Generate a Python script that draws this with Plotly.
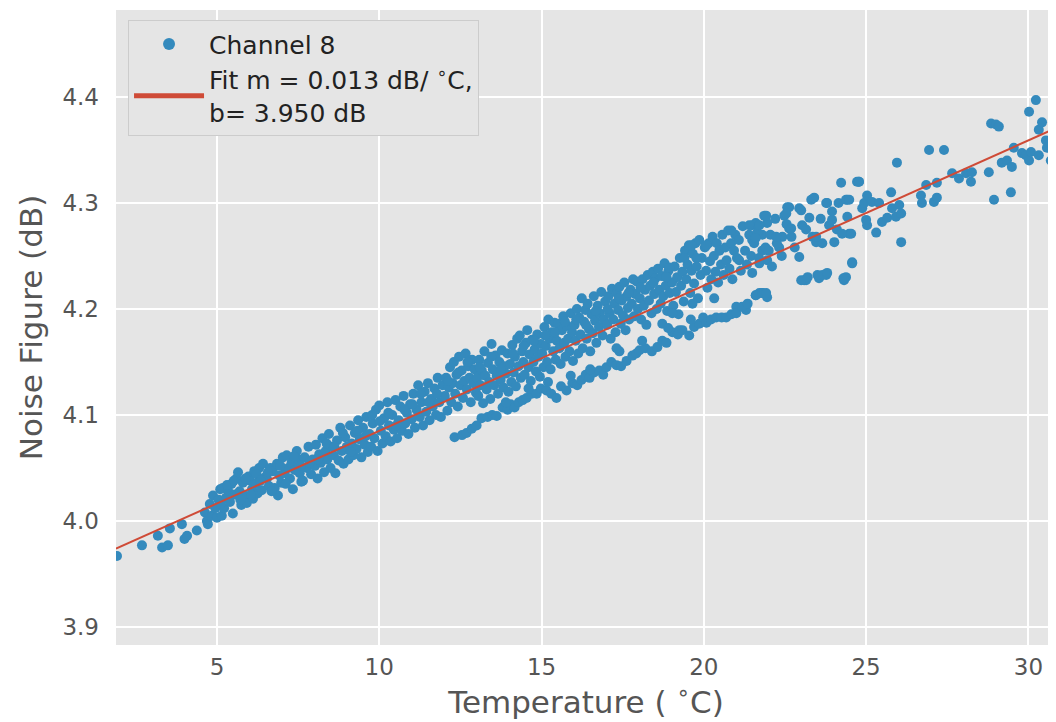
import plotly.graph_objects as go

# ---------------- data ----------------
# (temperature degC, noise figure dB) pairs, grouped by region of the cloud
seg_cold = [(1.92,3.967),(2.69,3.977),(3.18,3.986),(3.31,3.975),(3.49,3.977),(3.55,3.993),
            (3.92,3.997),(4.00,3.983),(4.08,3.986),(4.38,3.991),(4.63,4.008),(4.69,4.000),
            (4.72,3.997),(4.78,4.016),(4.88,4.024),(4.85,4.005),(4.95,4.012),(5.00,4.003)]

seg_5_8 = [(5.05,4.020),(5.10,4.030),(5.15,4.005),(5.18,4.031),(5.22,4.012),(5.28,4.022),(5.34,4.029),
           (5.40,4.018),(5.45,4.035),(5.49,4.007),(5.55,4.025),(5.60,4.040),(5.65,4.046),(5.70,4.028),
           (5.75,4.015),(5.80,4.036),(5.85,4.024),(5.92,4.017),(5.97,4.042),(6.02,4.038),(6.08,4.030),
           (6.11,4.021),(6.15,4.047),(6.20,4.035),(6.25,4.026),(6.30,4.050),(6.38,4.029),(6.42,4.054),
           (6.47,4.041),(6.54,4.040),(6.60,4.033),(6.65,4.050),(6.72,4.047),(6.78,4.031),(6.85,4.054),
           (6.88,4.024),(6.92,4.043),(6.98,4.036),(7.03,4.060),(7.08,4.045),(7.15,4.062),(7.20,4.050),
           (7.25,4.040),(7.30,4.055),(7.34,4.030),(7.40,4.048),(7.46,4.066),(7.50,4.058),(7.55,4.045),
           (7.60,4.037),(7.65,4.038),(7.70,4.060),(7.77,4.050),(7.82,4.070),(7.90,4.044),(7.95,4.058)]

seg_8_12 = [(8.02,4.052),(8.05,4.072),(8.10,4.040),(8.15,4.063),(8.20,4.055),(8.25,4.078),(8.30,4.046),
            (8.35,4.066),(8.40,4.058),(8.45,4.082),(8.50,4.050),(8.55,4.070),(8.60,4.062),(8.65,4.045),
            (8.70,4.076),(8.75,4.057),(8.80,4.088),(8.85,4.066),(8.90,4.054),(8.95,4.079),(9.00,4.070),
            (9.05,4.058),(9.10,4.090),(9.15,4.073),(9.20,4.062),(9.25,4.083),(9.30,4.068),(9.35,4.095),
            (9.40,4.077),(9.45,4.060),(9.50,4.088),(9.55,4.072),(9.60,4.098),(9.65,4.065),(9.70,4.082),
            (9.75,4.070),(9.80,4.092),(9.85,4.078),(9.90,4.105),(9.95,4.066),(10.00,4.109),(10.05,4.085),
            (10.10,4.073),(10.15,4.097),(10.20,4.080),(10.25,4.112),(10.30,4.090),(10.35,4.075),
            (10.40,4.100),(10.45,4.086),(10.50,4.114),(10.55,4.078),(10.60,4.095),(10.65,4.108),
            (10.70,4.085),(10.75,4.118),(10.80,4.092),(10.85,4.102),(10.90,4.082),(10.95,4.110),
            (11.00,4.096),(11.05,4.120),(11.10,4.088),(11.15,4.105),(11.20,4.128),(11.25,4.098),
            (11.30,4.112),(11.35,4.090),(11.40,4.122),(11.45,4.103),(11.50,4.130),(11.55,4.095),
            (11.60,4.115),(11.65,4.108),(11.70,4.125),(11.75,4.100),(11.80,4.135),(11.85,4.112),
            (11.90,4.098),(11.95,4.128)]

seg_12_13 = [(12.02,4.118),(12.06,4.135),(12.10,4.104),(12.14,4.126),(12.18,4.145),(12.22,4.112),
             (12.26,4.130),(12.30,4.150),(12.34,4.120),(12.38,4.138),(12.42,4.108),(12.46,4.155),
             (12.50,4.128),(12.54,4.142),(12.58,4.116),(12.62,4.132),(12.66,4.158),(12.70,4.124),
             (12.74,4.146),(12.78,4.135),(12.82,4.112),(12.86,4.152),(12.90,4.130),(12.94,4.143),
             (12.98,4.121)]

seg_13_18 = [(13.02,4.135),(13.05,4.118),(13.08,4.152),(13.12,4.128),(13.16,4.142),(13.20,4.111),
             (13.24,4.160),(13.27,4.137),(13.31,4.124),(13.35,4.149),(13.39,4.131),(13.42,4.115),
             (13.46,4.167),(13.50,4.143),(13.54,4.128),(13.58,4.156),(13.62,4.137),(13.66,4.120),
             (13.70,4.150),(13.74,4.133),(13.78,4.161),(13.82,4.126),(13.86,4.146),(13.90,4.139),
             (13.95,4.158),(13.98,4.122),
             (14.03,4.148),(14.07,4.131),(14.10,4.166),(14.14,4.140),(14.18,4.155),(14.21,4.127),
             (14.25,4.172),(14.29,4.146),(14.33,4.175),(14.36,4.135),(14.40,4.160),(14.44,4.150),
             (14.48,4.138),(14.52,4.168),(14.56,4.180),(14.60,4.145),(14.63,4.157),(14.67,4.132),
             (14.71,4.171),(14.75,4.150),(14.79,4.162),(14.83,4.141),(14.87,4.176),(14.91,4.155),
             (14.95,4.136),(14.98,4.167),
             (15.02,4.158),(15.06,4.145),(15.09,4.183),(15.13,4.165),(15.17,4.150),(15.21,4.190),
             (15.25,4.172),(15.28,4.143),(15.32,4.178),(15.36,4.160),(15.40,4.187),(15.44,4.152),
             (15.47,4.170),(15.51,4.186),(15.55,4.163),(15.59,4.148),(15.63,4.180),(15.67,4.193),
             (15.70,4.168),(15.74,4.155),(15.78,4.184),(15.82,4.172),(15.86,4.160),(15.90,4.196),
             (15.94,4.178),(15.97,4.151),
             (16.02,4.185),(16.05,4.170),(16.09,4.200),(16.13,4.158),(16.16,4.192),(16.20,4.176),
             (16.24,4.210),(16.27,4.163),(16.31,4.188),(16.35,4.199),(16.39,4.172),(16.42,4.205),
             (16.46,4.181),(16.50,4.160),(16.54,4.195),(16.58,4.177),(16.61,4.212),(16.65,4.189),
             (16.69,4.168),(16.73,4.203),(16.77,4.183),(16.80,4.196),(16.84,4.216),(16.88,4.175),
             (16.92,4.190),(16.96,4.207),
             (17.02,4.185),(17.06,4.212),(17.10,4.196),(17.13,4.172),(17.17,4.219),(17.21,4.190),
             (17.25,4.205),(17.28,4.178),(17.32,4.215),(17.36,4.199),(17.40,4.221),(17.44,4.186),
             (17.47,4.208),(17.51,4.194),(17.55,4.225),(17.59,4.180),(17.62,4.212),(17.66,4.201),
             (17.70,4.190),(17.74,4.218),(17.78,4.205),(17.82,4.228),(17.85,4.193),(17.89,4.214),
             (17.93,4.226),(17.97,4.200)]

seg_18_21 = [(18.03,4.210),(18.07,4.190),(18.11,4.228),(18.15,4.203),(18.19,4.218),(18.23,4.185),
             (18.27,4.232),(18.31,4.208),(18.35,4.222),(18.39,4.196),(18.43,4.235),(18.47,4.214),
             (18.51,4.229),(18.55,4.200),(18.59,4.238),(18.63,4.218),(18.67,4.205),(18.71,4.231),
             (18.75,4.212),(18.79,4.243),(18.83,4.222),(18.87,4.198),(18.91,4.236),(18.95,4.215),
             (19.02,4.225),(19.06,4.203),(19.10,4.240),(19.14,4.216),(19.18,4.230),(19.22,4.195),
             (19.26,4.248),(19.30,4.222),(19.34,4.235),(19.38,4.207),(19.42,4.255),(19.46,4.228),
             (19.50,4.242),(19.54,4.260),(19.58,4.215),(19.62,4.236),(19.66,4.252),(19.70,4.224),
             (19.74,4.262),(19.78,4.240),(19.82,4.210),(19.86,4.265),(19.90,4.232),(19.94,4.248),
             (20.03,4.258),(20.07,4.236),(20.11,4.220),(20.15,4.262),(20.19,4.245),(20.23,4.228),
             (20.27,4.268),(20.31,4.250),(20.36,4.235),(20.40,4.262),(20.44,4.225),(20.48,4.255),
             (20.53,4.242),(20.57,4.270),(20.61,4.232),(20.66,4.258),(20.70,4.246),(20.75,4.274),
             (20.79,4.238),(20.84,4.262),(20.88,4.228),(20.93,4.255),(20.97,4.270),
             (21.02,4.248),(21.08,4.265),(21.14,4.236),(21.20,4.278),(21.27,4.255),(21.33,4.242),
             (21.40,4.270),(21.46,4.250),
             (18.94,4.239),(19.40,4.248),(19.77,4.248),(19.62,4.260),(20.08,4.260),(20.85,4.274),
             (21.09,4.246),(20.32,4.210),(19.65,4.205),(19.03,4.196),(18.72,4.186),(19.25,4.180),
             (21.00,4.202),(21.30,4.199)]

seg_21_25 = [(21.49,4.279),(21.60,4.281),(21.86,4.288),(21.95,4.281),(21.80,4.270),(21.49,4.265),
             (21.80,4.255),(21.95,4.246),(21.49,4.234),(21.80,4.215),(21.95,4.211),(21.60,4.213),
             (22.42,4.268),(22.32,4.258),(22.48,4.288),(22.63,4.296),(22.63,4.276),(22.94,4.295),
             (22.94,4.249),(23.03,4.279),(23.09,4.227),(23.25,4.286),(23.31,4.303),(23.40,4.305),
             (23.46,4.263),(23.55,4.229),(23.77,4.232),(23.80,4.300),(23.86,4.279),(24.02,4.263),
             (24.23,4.319),(24.32,4.227),(24.42,4.303),(24.42,4.287),(24.48,4.271),(24.57,4.244),
             (24.78,4.320),(21.55,4.262),(21.65,4.272),(21.70,4.248),(21.90,4.258),(22.05,4.270),
             (22.10,4.240),(22.20,4.285),(22.25,4.262),(22.40,4.250),(22.55,4.280),(22.70,4.268),
             (22.80,4.258),(23.15,4.275),(23.35,4.268),(23.60,4.285),(23.65,4.262),(23.95,4.292),
             (24.10,4.275),(24.15,4.300),(24.72,4.320),(24.38,4.303),(23.77,4.300),(23.00,4.293),
             (22.57,4.296),(22.54,4.290),(21.92,4.288),(21.71,4.279),(21.40,4.279),(21.60,4.267),
             (22.23,4.268),(22.69,4.276),(23.46,4.268),(23.95,4.284),(24.26,4.271),(24.38,4.230),
             (23.65,4.232),(23.15,4.227),(22.00,4.255),(21.71,4.243),(21.71,4.215)]

seg_warm = [(24.48,4.303),(24.54,4.271),(24.78,4.320),(24.88,4.295),(24.94,4.300),(25.03,4.307),
            (25.03,4.279),(25.00,4.284),(25.18,4.301),(25.31,4.272),(25.40,4.300),(25.49,4.282),
            (25.65,4.286),(25.77,4.310),(25.80,4.295),(25.92,4.287),(25.95,4.338),(26.02,4.298),
            (26.08,4.263),(26.08,4.290),(26.69,4.307),(26.72,4.300),(26.85,4.317),(26.94,4.350),
            (27.09,4.301),(27.18,4.305),(27.18,4.319),(27.40,4.350),(27.65,4.328),(27.86,4.323),
            (28.08,4.328),(28.23,4.320),(28.26,4.329),(28.78,4.329),(28.94,4.303),(28.85,4.375),
            (29.00,4.374),(29.09,4.372),(29.18,4.338),(29.34,4.340),(29.46,4.310),(29.49,4.334),
            (29.55,4.352),(29.80,4.347),(29.92,4.345),(30.02,4.340),(30.08,4.348),(30.02,4.386),
            (30.23,4.397),(30.32,4.345),(30.32,4.369),(30.42,4.376),(30.54,4.359),(30.57,4.352),
            (30.69,4.340)]

seg_lower_band = [(12.32,4.079),(12.55,4.081),(12.69,4.083),(12.85,4.087),(13.00,4.090),(13.15,4.097),
                  (13.34,4.098),(13.48,4.100),(13.62,4.099),(13.80,4.107),(13.95,4.105),(14.05,4.110),
                  (14.17,4.107),(14.30,4.112),(14.42,4.114),(14.54,4.116),(14.70,4.120),(14.85,4.120),
                  (14.98,4.125),(15.15,4.123),(15.30,4.120),(15.46,4.116),(15.60,4.127),(15.77,4.123),
                  (15.95,4.130),(16.10,4.128),(16.23,4.133),(16.36,4.138),(16.48,4.135),(16.62,4.140),
                  (16.78,4.142),(16.90,4.138),(17.00,4.145),(17.15,4.150),(17.31,4.147),(17.45,4.146),
                  (17.62,4.151),(17.80,4.156),(17.92,4.158),(18.02,4.161),(18.20,4.163),(18.40,4.160),
                  (18.57,4.164),(18.72,4.170),(18.85,4.168),(19.03,4.178),(19.20,4.176),(19.34,4.180),
                  (19.55,4.175),(19.70,4.183),(19.86,4.186),(19.98,4.192),(20.08,4.187),(20.22,4.190),
                  (20.38,4.192),(20.55,4.192),(20.69,4.192),(20.85,4.195),(21.00,4.196),(21.18,4.202),
                  (21.35,4.205),(21.60,4.213),(21.80,4.215),(21.92,4.215),(23.00,4.227),(23.20,4.230),
                  (23.50,4.232),(23.80,4.234),(24.30,4.229),(24.57,4.243),
                  (13.90,4.112),(14.60,4.125),(15.20,4.131),(15.90,4.137),(16.50,4.143),(17.40,4.160),
                  (18.10,4.170),(18.90,4.182),(19.60,4.190),(17.31,4.163)]

seg_dense_fill = [(5.12,4.016),(5.31,4.034),(5.52,4.038),(5.72,4.020),(5.88,4.040),(6.05,4.025),
                  (6.22,4.044),(6.34,4.038),(6.57,4.046),(6.68,4.028),(6.95,4.052),(7.12,4.035),
                  (7.37,4.061),(7.58,4.052),(7.85,4.055),
                  (8.12,4.058),(8.38,4.073),(8.62,4.070),(8.88,4.083),(9.12,4.065),(9.33,4.085),
                  (9.58,4.080),(9.78,4.100),(10.02,4.094),(10.28,4.102),(10.52,4.090),(10.78,4.105),
                  (11.02,4.110),(11.28,4.120),(11.52,4.112),(11.78,4.120),
                  (12.12,4.132),(12.44,4.140),(12.72,4.150),(13.10,4.145),(13.45,4.155),(13.75,4.143),
                  (14.12,4.158),(14.45,4.165),(14.77,4.170),(15.11,4.175),(15.42,4.178),(15.72,4.188),
                  (16.07,4.190),(16.37,4.185),(16.67,4.198),(17.04,4.200),(17.38,4.210),(17.68,4.215),
                  (18.05,4.220),(18.45,4.225),(18.85,4.230)]

# linear fit line as drawn in the picture (legend shows the rounded values)
fit_slope = 0.0137
fit_intercept = 3.948
fit_label_m = "0.013"
fit_label_b = "3.950"

x_ticks = [5, 10, 15, 20, 25, 30]
y_ticks = [3.9, 4.0, 4.1, 4.2, 4.3, 4.4]
x_range = [1.89, 30.85]
y_range = [3.883, 4.482]

# ---------------- build ----------------
all_pts = (seg_cold + seg_5_8 + seg_8_12 + seg_12_13 + seg_13_18 + seg_18_21 +
           seg_21_25 + seg_warm + seg_lower_band + seg_dense_fill)
temps = [p[0] for p in all_pts]
nfs = [p[1] for p in all_pts]

fit_x = list(x_range)
fit_y = [fit_intercept + fit_slope * t for t in fit_x]

FONT = "DejaVu Sans"
fig = go.Figure()
fig.add_trace(go.Scatter(
    x=temps, y=nfs, mode="markers", name="Channel 8",
    marker=dict(color="#348ABD", size=10, line=dict(width=0)),
))
fig.add_trace(go.Scatter(
    x=fit_x, y=fit_y, mode="lines",
    name=f"Fit m = {fit_label_m} dB/ <sup>∘</sup>C,<br>b= {fit_label_b} dB",
    line=dict(color="#CF4B37", width=2),
))

# page body has an 8px margin, so the figure is sized/offset to compensate
fig.update_layout(
    width=1048, height=714,
    margin=dict(l=108, r=0, t=2, b=77, autoexpand=False),
    paper_bgcolor="white", plot_bgcolor="#E5E5E5",
    font=dict(family=FONT, color="#555555"),
    showlegend=True,
    legend=dict(
        x=0.0128, y=0.984, xanchor="left", yanchor="top",
        bgcolor="#E5E5E5", bordercolor="#CCCCCC", borderwidth=1,
        font=dict(family=FONT, size=25, color="#222222"),
        itemwidth=70, itemsizing="constant", tracegroupgap=2,
    ),
    xaxis=dict(
        range=x_range, tickvals=x_ticks, showgrid=True, gridcolor="white", gridwidth=1.8,
        zeroline=False, showline=False, ticks="", ticklabelstandoff=6,
        tickfont=dict(family=FONT, size=23, color="#555555"),
        title=dict(text="Temperature ( <sup>∘</sup>C)", font=dict(family=FONT, size=31, color="#555555"), standoff=4),
    ),
    yaxis=dict(
        range=y_range, tickvals=y_ticks, tickformat=".1f", showgrid=True, gridcolor="white", gridwidth=1.8,
        zeroline=False, showline=False, ticks="", ticklabelstandoff=16,
        tickfont=dict(family=FONT, size=23, color="#555555"),
        title=dict(text="Noise Figure (dB)", font=dict(family=FONT, size=31, color="#555555"), standoff=10),
    ),
)

fig.write_html("out.html")
